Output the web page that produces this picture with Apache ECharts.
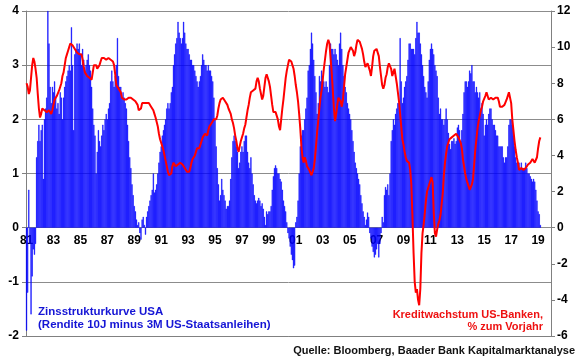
<!DOCTYPE html>
<html>
<head>
<meta charset="utf-8">
<script src="https://cdn.jsdelivr.net/npm/echarts@6/dist/echarts.min.js"></script>
<style>
html,body{margin:0;padding:0;background:#fff;}
#chart{width:580px;height:359px;}
</style>
</head>
<body>
<div id="chart"></div>
<script>
// Monthly data, Jan 1981 .. Mar 2019
const startYear = 1981;
const endYearAxis = 2019; // axis runs through Dec 2019

// Zinsstrukturkurve USA (10J minus 3M), left axis
const spread = [
  -1.9,-1.2,0.7,-0.3,-1.6,-0.9,-0.4,-0.5,-0.3,1.3,1.6,1.9,      // 1981
  1.6,1.8,1.9,0.9,2.0,2.2,2.4,4.0,3.4,2.6,2.3,2.6,              // 1982
  2.5,2.7,2.4,2.2,2.3,2.1,2.5,2.4,2.0,2.4,2.6,2.7,              // 1983
  2.8,2.9,3.0,2.9,3.7,3.0,1.8,3.2,3.3,3.4,3.3,3.4,              // 1984
  3.2,3.0,3.3,3.1,2.9,3.0,3.1,3.2,3.0,2.9,2.6,2.2,              // 1985
  1.9,1.7,1.0,1.4,1.8,1.6,1.5,1.7,1.9,1.8,2.0,2.1,              // 1986
  2.0,2.2,2.3,2.7,2.9,2.7,2.6,2.8,3.0,3.5,2.8,2.6,              // 1987
  2.6,2.4,2.5,2.4,2.3,2.2,1.9,1.6,1.3,1.1,0.8,0.6,              // 1988
  0.4,0.3,0.15,0.05,0.1,-0.1,-0.22,0.15,0.2,0.05,-0.13,0.2,     // 1989
  0.3,0.4,0.5,0.6,0.7,1.0,0.65,0.7,0.8,1.0,1.2,1.4,             // 1990
  1.5,1.7,1.8,1.9,2.0,2.2,2.3,2.2,2.3,2.5,2.6,3.0,              // 1991
  3.2,3.4,3.5,3.8,3.6,3.5,3.4,3.5,3.8,3.6,3.4,3.3,              // 1992
  3.3,3.2,3.1,3.1,3.0,3.0,2.9,2.8,2.7,2.6,2.7,2.8,              // 1993
  3.0,3.2,3.1,3.0,3.0,2.9,3.0,2.9,2.9,2.8,2.7,2.4,              // 1994
  2.0,1.5,1.1,0.8,0.5,0.6,0.9,0.7,0.6,0.5,0.35,0.4,             // 1995
  0.4,0.5,0.9,1.3,1.6,1.7,1.6,1.5,1.4,1.1,1.2,1.4,              // 1996
  1.5,1.4,1.6,1.7,1.7,1.4,1.2,1.1,1.3,1.0,0.8,0.6,              // 1997
  0.5,0.45,0.5,0.55,0.5,0.4,0.45,0.35,0.2,0.05,0.3,0.25,        // 1998
  0.3,0.3,0.4,0.7,0.95,1.1,1.15,1.1,1.0,1.0,0.9,0.85,           // 1999
  0.7,0.5,0.4,0.3,0.1,-0.1,-0.2,-0.35,-0.5,-0.6,-0.75,-0.7,     // 2000
  0.1,0.2,0.5,1.0,1.5,1.7,1.8,1.8,2.0,2.2,2.4,2.9,              // 2001
  3.0,3.3,3.6,3.4,3.1,2.8,2.5,2.1,2.3,2.8,2.7,2.9,              // 2002
  2.8,2.7,2.6,2.7,2.6,2.5,3.0,3.4,3.3,3.3,3.2,3.3,              // 2003
  3.2,3.1,3.0,3.4,3.6,3.3,3.0,2.8,2.6,2.5,2.3,2.2,              // 2004
  2.1,2.0,1.8,1.6,1.4,1.2,1.1,1.0,0.9,0.8,0.6,0.45,             // 2005
  0.3,0.2,0.05,0.15,0.28,0.2,-0.1,-0.2,-0.35,-0.45,-0.55,-0.5,  // 2006
  -0.4,-0.3,-0.55,-0.3,-0.1,0.2,0.1,0.6,0.75,0.7,0.8,0.6,       // 2007
  1.0,1.6,1.8,2.0,1.9,2.1,2.2,2.3,2.3,3.5,2.7,2.3,              // 2008
  2.4,2.6,2.7,2.8,3.1,3.4,3.4,3.3,3.3,3.3,3.2,3.5,              // 2009
  3.8,3.6,3.6,3.4,3.2,3.0,2.8,2.6,2.5,2.4,2.7,3.1,              // 2010
  3.3,3.4,3.3,3.2,3.0,2.9,2.8,2.4,2.1,2.2,2.0,2.0,              // 2011
  1.9,2.0,2.2,2.0,1.75,1.55,1.45,1.6,1.6,1.65,1.55,1.6,         // 2012
  1.85,1.9,1.8,1.6,1.8,2.1,2.5,2.7,2.7,2.6,2.7,2.9,             // 2013
  2.85,3.0,2.7,2.7,2.5,2.6,2.5,2.4,2.5,2.2,2.3,2.1,             // 2014
  1.7,1.9,2.0,1.9,2.1,2.2,2.2,2.0,1.9,1.9,1.8,1.7,              // 2015
  1.7,1.5,1.5,1.5,1.5,1.3,1.2,1.3,1.3,1.5,1.9,2.0,              // 2016
  2.0,1.9,1.7,1.5,1.3,1.2,1.2,1.2,1.1,1.2,1.1,1.1,              // 2017
  1.1,1.2,1.1,1.0,1.0,0.95,0.9,0.85,0.9,0.85,0.7,0.5,           // 2018
  0.3,0.25,0.05                                                 // 2019
];

// Kreditwachstum US-Banken, % zum Vorjahr, right axis
const credit = [
  8.0,7.8,7.4,7.6,8.3,9.0,9.4,9.2,8.8,8.3,7.4,6.6,              // 1981
  6.1,6.3,6.6,6.7,6.5,6.4,6.4,6.5,6.5,6.4,6.3,6.5,              // 1982
  6.8,7.1,7.2,7.3,7.4,7.6,7.7,8.0,8.4,8.6,9.0,9.4,              // 1983
  9.6,9.8,10.0,10.2,10.3,10.1,10.0,9.9,9.8,9.7,9.7,9.6,         // 1984
  9.6,9.6,9.3,8.9,8.6,8.5,8.4,8.4,8.3,8.2,8.2,8.6,              // 1985
  9.0,9.1,9.0,8.8,8.8,9.0,9.2,9.4,9.5,9.4,9.3,9.3,              // 1986
  9.3,9.4,9.4,9.3,9.2,9.2,9.0,8.5,7.9,7.8,7.7,7.7,              // 1987
  7.5,7.2,7.1,7.1,7.0,7.1,7.1,7.2,7.2,7.2,7.2,7.1,              // 1988
  7.1,7.0,7.0,6.8,6.5,6.4,6.6,6.9,6.9,6.9,6.9,6.9,              // 1989
  6.9,6.9,6.8,6.7,6.6,6.5,6.3,6.1,6.0,5.6,5.2,4.9,              // 1990
  4.7,4.5,4.3,4.0,3.7,3.4,3.1,2.9,2.8,3.0,3.4,3.6,              // 1991
  3.5,3.4,3.4,3.5,3.6,3.6,3.6,3.5,3.4,3.3,3.2,3.1,              // 1992
  3.0,3.1,3.3,3.6,3.8,3.9,4.0,4.2,4.4,4.5,4.4,4.6,              // 1993
  4.8,5.0,5.1,5.2,5.3,5.1,5.4,5.6,5.7,5.8,5.9,6.0,              // 1994
  6.0,6.0,6.2,6.6,6.9,7.1,7.2,7.2,7.1,7.0,7.0,6.8,              // 1995
  6.6,6.5,6.3,6.0,5.8,5.5,5.1,4.8,4.4,4.2,4.5,4.8,              // 1996
  5.0,5.2,5.5,5.7,6.1,6.5,6.8,7.2,7.5,7.6,7.6,7.6,              // 1997
  7.7,8.1,8.3,8.1,7.7,7.4,7.1,7.3,7.8,8.3,8.5,8.3,              // 1998
  8.1,7.8,7.3,6.8,6.4,6.3,6.4,6.3,6.0,5.6,5.4,6.0,              // 1999
  6.6,7.1,7.7,8.3,8.7,9.0,9.3,9.3,9.2,9.0,8.8,8.4,              // 2000
  7.9,7.5,7.0,6.3,5.5,4.5,3.9,3.6,3.9,3.7,3.4,3.3,              // 2001
  3.2,3.1,2.9,2.8,3.3,3.8,4.5,5.3,5.9,6.6,7.2,7.6,              // 2002
  8.2,8.8,9.3,9.8,10.2,10.4,10.2,9.4,8.6,7.6,6.6,5.9,           // 2003
  6.3,6.8,7.2,7.3,7.0,6.7,7.1,7.8,8.5,8.9,9.3,9.7,              // 2004
  9.8,10.0,10.0,9.8,9.5,9.7,10.1,10.4,10.4,10.3,10.1,9.9,       // 2005
  9.6,9.2,8.9,8.9,9.1,9.0,8.7,8.4,8.9,9.5,9.8,9.9,              // 2006
  9.9,9.8,9.5,8.9,8.4,7.9,7.7,7.9,8.3,8.5,8.9,9.1,              // 2007
  9.1,8.8,8.4,8.6,8.8,8.4,8.0,7.5,7.0,6.3,5.6,4.9,              // 2008
  4.6,4.2,3.9,3.7,3.6,3.6,3.2,2.4,0.6,-1.4,-3.0,-3.6,           // 2009
  -3.4,-4.0,-4.3,-3.4,-1.4,-0.3,0.2,0.8,1.5,2.0,2.2,2.4,        // 2010
  2.6,2.8,2.5,0.8,-0.3,-0.5,-0.1,0.2,0.4,0.7,1.3,1.9,           // 2011
  2.9,3.6,4.1,4.5,4.7,4.9,5.0,5.0,5.0,5.1,5.2,5.2,              // 2012
  5.1,5.0,4.9,4.7,4.4,3.8,3.4,3.0,2.7,2.5,2.3,2.1,              // 2013
  2.1,2.4,2.7,3.5,4.3,4.9,5.5,5.9,6.2,6.5,6.7,7.0,              // 2014
  7.1,7.3,7.5,7.4,7.1,7.1,7.2,7.2,7.1,7.0,7.2,7.3,              // 2015
  7.2,7.0,6.7,6.6,6.7,6.7,6.8,6.9,7.1,7.3,7.5,7.4,              // 2016
  6.9,6.0,5.4,4.8,4.3,3.9,3.6,3.2,3.1,3.3,3.3,3.2,              // 2017
  3.2,3.3,3.4,3.5,3.5,3.6,3.7,3.8,3.7,3.6,3.6,3.9,              // 2018
  4.4,4.8,5.0                                                   // 2019
];

const leftTicks = [-2, -1, 0, 1, 2, 3, 4];
const rightTicks = [-6, -4, -2, 0, 2, 4, 6, 8, 10, 12];
const yearTickLabels = ['81','83','85','87','89','91','93','95','97','99','01','03','05','07','09','11','13','15','17','19'];

const months = [];
for (let y = startYear; y <= endYearAxis; y++) {
  for (let m = 1; m <= 12; m++) months.push(y + '-' + (m < 10 ? '0' + m : m));
}

const FONT = '"Liberation Sans", Arial, sans-serif';
const GRID = {left: 26, right: 29, top: 11, bottom: 23};
const plotH = 359 - GRID.top - GRID.bottom;
const yMin = leftTicks[0], yMax = leftTicks[leftTicks.length - 1];
// distance from bottom edge of plot up to the zero line, so year labels sit under y = 0
const zeroOffset = (0 - yMin) / (yMax - yMin) * plotH;

const chart = echarts.init(document.getElementById('chart'), null, {renderer: 'canvas'});
chart.setOption({
  animation: false,
  backgroundColor: '#ffffff',
  grid: Object.assign({containLabel: false}, GRID),
  xAxis: {
    type: 'category',
    data: months,
    boundaryGap: true,
    axisLine: {show: true, onZero: false, lineStyle: {color: '#808080', width: 1}},
    axisTick: {show: false},
    splitLine: {show: false},
    axisLabel: {
      interval: function (i, v) {
        const lab = v.slice(2, 4);
        return v.slice(5) === '01' && yearTickLabels.indexOf(lab) >= 0;
      },
      formatter: function (v) { return v.slice(2, 4); },
      color: '#000', fontWeight: 'bold', fontSize: 12, fontFamily: FONT,
      margin: -zeroOffset + 7
    }
  },
  yAxis: [{
    type: 'value', min: yMin, max: yMax, interval: 1,
    position: 'left',
    axisLine: {show: true, onZero: false, lineStyle: {color: '#808080'}},
    axisTick: {show: true, length: 4, lineStyle: {color: '#808080'}},
    splitLine: {show: true, lineStyle: {color: '#8c8c8c', width: 1}},
    axisLabel: {color: '#000', fontWeight: 'bold', fontSize: 12, fontFamily: FONT, margin: 7}
  }, {
    type: 'value', min: rightTicks[0], max: rightTicks[rightTicks.length - 1], interval: 2,
    position: 'right',
    axisLine: {show: true, onZero: false, lineStyle: {color: '#808080'}},
    axisTick: {show: true, length: 4, lineStyle: {color: '#808080'}},
    splitLine: {show: false},
    axisLabel: {color: '#000', fontWeight: 'bold', fontSize: 12, fontFamily: FONT, margin: 6}
  }],
  series: [{
    name: 'Zinsstrukturkurve USA',
    type: 'bar',
    yAxisIndex: 0,
    data: spread,
    barWidth: '100%',
    barGap: '0%',
    itemStyle: {color: '#0000FF', borderColor: '#0000FF', borderWidth: 0.4},
    z: 2
  }, {
    name: 'Kreditwachstum US-Banken',
    type: 'line',
    yAxisIndex: 1,
    data: credit,
    showSymbol: false,
    smooth: false,
    lineStyle: {color: '#FF0000', width: 2},
    z: 3
  }],
  graphic: [
    {type: 'text', left: 38, top: 306, style: {text: 'Zinsstrukturkurve USA', fill: '#1515D5', font: 'bold 11.5px ' + FONT}},
    {type: 'text', left: 38, top: 319, style: {text: '(Rendite 10J minus 3M US-Staatsanleihen)', fill: '#1515D5', font: 'bold 11.5px ' + FONT}},
    {type: 'text', right: 37, top: 309, style: {text: 'Kreditwachstum US-Banken,', fill: '#EE1111', font: 'bold 11px ' + FONT}},
    {type: 'text', right: 37, top: 321, style: {text: '% zum Vorjahr', fill: '#EE1111', font: 'bold 11px ' + FONT}},
    {type: 'text', right: 5, top: 345, style: {text: 'Quelle: Bloomberg, Baader Bank Kapitalmarktanalyse', fill: '#111', font: 'bold 11px ' + FONT}}
  ]
});
</script>
</body>
</html>
